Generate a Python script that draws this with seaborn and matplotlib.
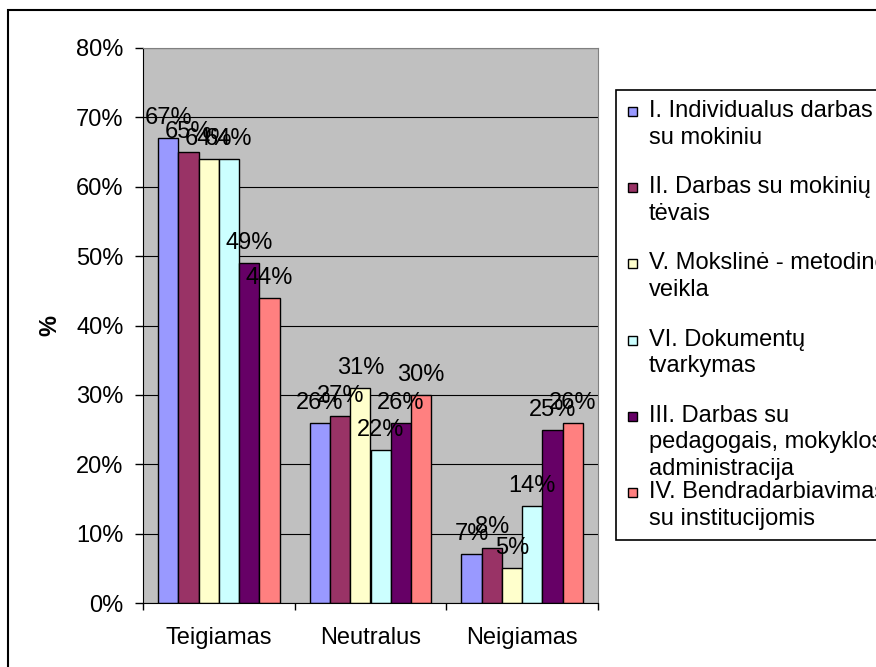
import matplotlib
matplotlib.use("Agg")
import pandas as pd
import seaborn as sns
from matplotlib import pyplot as plt
from matplotlib.patches import Rectangle
from matplotlib.ticker import PercentFormatter, FixedLocator

categories = ["Teigiamas", "Neutralus", "Neigiamas"]
series = [
    "I. Individualus darbas\nsu mokiniu",
    "II. Darbas su mokinių\ntėvais",
    "V. Mokslinė - metodinė\nveikla",
    "VI. Dokumentų\ntvarkymas",
    "III. Darbas su\npedagogais, mokyklos\nadministracija",
    "IV. Bendradarbiavimas\nsu institucijomis",
]
values = [
    [67, 26, 7],
    [65, 27, 8],
    [64, 31, 5],
    [64, 22, 14],
    [49, 26, 25],
    [44, 30, 26],
]
colors = ["#9999FF", "#993366", "#FFFFCC", "#CCFFFF", "#660066", "#FF8080"]

W, H = 876, 667
FS = 17


def fx(px):
    return px / W


def fy(py):
    return 1 - py / H


def main():
    records = []
    for name, vals in zip(series, values):
        for cat, v in zip(categories, vals):
            records.append({"Kategorija": cat, "Reikšmė": v, "Serija": name})
    df = pd.DataFrame(records)

    fig = plt.figure(figsize=(W / 100, H / 100), dpi=100)
    plt.rcParams["font.family"] = ["Liberation Sans", "DejaVu Sans"]
    ax = fig.add_axes([fx(143), fy(603), fx(598) - fx(143), fy(48) - fy(603)])

    sns.barplot(
        data=df,
        x="Kategorija",
        y="Reikšmė",
        hue="Serija",
        hue_order=series,
        order=categories,
        palette=colors,
        saturation=1,
        edgecolor="black",
        linewidth=1,
        errorbar=None,
        legend=False,
        width=0.8,
        ax=ax,
    )

    for cont in ax.containers:
        ax.bar_label(cont, fmt="%d%%", padding=6.5, fontsize=FS, color="black")

    ax.set_facecolor("#C0C0C0")
    ax.set_xlim(-0.5, 2.5)
    ax.set_ylim(0, 80)
    ax.set_yticks(range(0, 81, 10))
    ax.yaxis.set_major_formatter(PercentFormatter(decimals=0))
    ax.set_axisbelow(True)
    ax.yaxis.grid(True, color="black", linewidth=0.8)
    ax.xaxis.grid(False)

    ax.xaxis.set_minor_locator(FixedLocator([-0.5, 0.5, 1.5, 2.5]))
    ax.tick_params(axis="x", which="major", length=0, pad=17, labelsize=FS)
    ax.tick_params(axis="x", which="minor", length=5, width=1, direction="out")
    ax.tick_params(axis="y", length=6, width=1, pad=8, labelsize=FS)

    ax.set_xlabel("")
    ax.set_ylabel("%", fontsize=FS, fontweight="bold")
    ax.yaxis.set_label_coords((61 - 143) / (598 - 143), 0.5)

    for side in ["top", "right"]:
        ax.spines[side].set_color("#808080")
    for side in ["left", "bottom"]:
        ax.spines[side].set_color("black")

    # outer chart border
    fig.patches.append(
        Rectangle((fx(8), fy(700)), 1.0, fy(10) - fy(700),
                  transform=fig.transFigure, fill=False,
                  edgecolor="black", linewidth=1.5)
    )
    # legend box, drawn by hand so the entries keep the reference spacing
    fig.patches.append(
        Rectangle((fx(616), fy(540)), 1.0, fy(90) - fy(540),
                  transform=fig.transFigure, facecolor="white",
                  edgecolor="black", linewidth=1.2)
    )
    for i, (name, col) in enumerate(zip(series, colors)):
        base = 117 + i * 76.2
        fig.patches.append(
            Rectangle((fx(628), fy(base - 1)), fx(9), fy(0) - fy(9),
                      transform=fig.transFigure, facecolor=col,
                      edgecolor="black", linewidth=1)
        )
        for k, line in enumerate(name.split("\n")):
            fig.text(fx(649), fy(base + k * 26.5), line, fontsize=FS,
                     va="baseline", ha="left")

    fig.savefig("out.png", dpi=100)


if __name__ == "__main__":
    main()
